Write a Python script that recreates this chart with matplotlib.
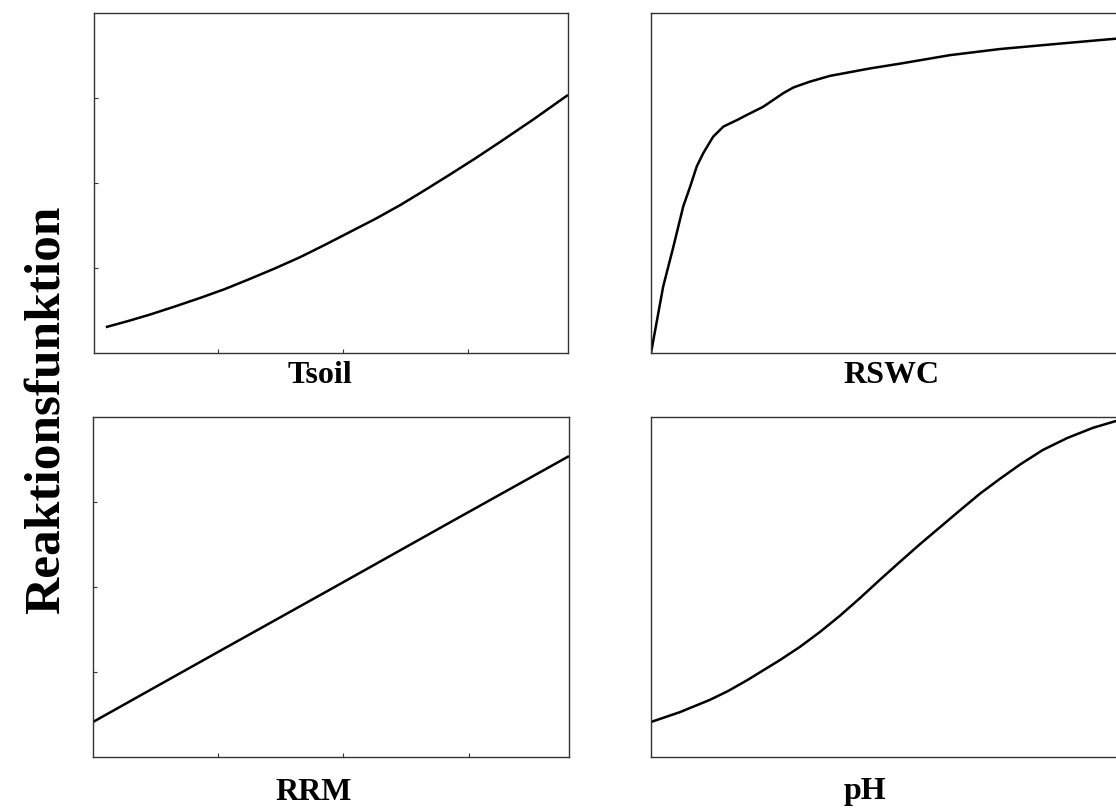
import matplotlib
matplotlib.use("Agg")
import matplotlib.pyplot as plt

# Response functions (normalised axes, 0..1 on both x and y)
tsoil_x = [0.025, 0.072, 0.118, 0.171, 0.224, 0.276, 0.329, 0.382, 0.435, 0.487,
           0.540, 0.593, 0.646, 0.698, 0.751, 0.804, 0.857, 0.928, 1.0]
tsoil_y = [0.076, 0.094, 0.113, 0.137, 0.162, 0.188, 0.218, 0.249, 0.282, 0.318,
           0.356, 0.394, 0.435, 0.479, 0.525, 0.572, 0.621, 0.688, 0.759]

rswc_x = [0.0, 0.026, 0.048, 0.069, 0.084, 0.098, 0.112, 0.133, 0.155, 0.184,
          0.205, 0.240, 0.283, 0.305, 0.340, 0.383, 0.469, 0.533, 0.640, 0.747,
          0.876, 1.0]
rswc_y = [0.0, 0.195, 0.313, 0.431, 0.490, 0.549, 0.588, 0.636, 0.666, 0.685,
          0.700, 0.724, 0.764, 0.781, 0.798, 0.815, 0.837, 0.851, 0.876, 0.894,
          0.910, 0.925]

rrm_x = [0.0, 0.25, 0.5, 0.75, 1.0]
rrm_y = [0.103, 0.299, 0.494, 0.690, 0.885]

ph_x = [0.0, 0.062, 0.126, 0.165, 0.206, 0.276, 0.319, 0.362, 0.405, 0.448,
        0.490, 0.533, 0.576, 0.619, 0.662, 0.704, 0.747, 0.790, 0.839, 0.891,
        0.946, 1.0]
ph_y = [0.103, 0.132, 0.168, 0.194, 0.226, 0.285, 0.324, 0.368, 0.416, 0.468,
        0.521, 0.574, 0.626, 0.676, 0.726, 0.774, 0.818, 0.860, 0.903, 0.938,
        0.968, 0.990]

panel_names = ["Tsoil", "RSWC", "RRM", "pH"]
ylabel_text = "Reaktionsfunktion"

W, H = 1116, 808
fig = plt.figure(figsize=(W / 100, H / 100), dpi=100)
serif = ["Liberation Serif", "DejaVu Serif"]


def px_axes(left, top, right, bottom):
    return fig.add_axes([left / W, 1 - bottom / H, (right - left) / W, (bottom - top) / H])


panels = [
    (px_axes(94, 13, 568, 353), tsoil_x, tsoil_y, True),
    (px_axes(651, 13, 1118, 353), rswc_x, rswc_y, False),
    (px_axes(93, 417, 569, 757), rrm_x, rrm_y, True),
    (px_axes(651, 417, 1118, 757), ph_x, ph_y, False),
]

for ax, xs, ys, with_ticks in panels:
    ax.plot(xs, ys, color="black", lw=1.8, solid_capstyle="butt",
            solid_joinstyle="round")
    ax.set_xlim(0, 1)
    ax.set_ylim(0, 1)
    for sp in ax.spines.values():
        sp.set_linewidth(1.0)
        sp.set_color("#333333")
    if with_ticks:
        ax.set_xticks([0.262, 0.525, 0.789])
        ax.set_yticks([0.25, 0.5, 0.75])
        ax.tick_params(direction="in", length=3, width=0.8, colors="#333333",
                       labelbottom=False, labelleft=False, top=False, right=False)
    else:
        ax.set_xticks([])
        ax.set_yticks([])

# Panel captions
label_pos = [(320, 375), (891, 375), (314, 792), (865, 792)]
for name, (x, y) in zip(panel_names, label_pos):
    fig.text(x / W, 1 - y / H, name, ha="center", va="center",
             fontsize=23, fontweight="bold", family=serif)

fig.text(47 / W, 1 - 410 / H, ylabel_text, rotation=90, ha="center", va="center",
         fontsize=37, fontweight="bold", family=serif)

fig.savefig("out.png", dpi=100)
